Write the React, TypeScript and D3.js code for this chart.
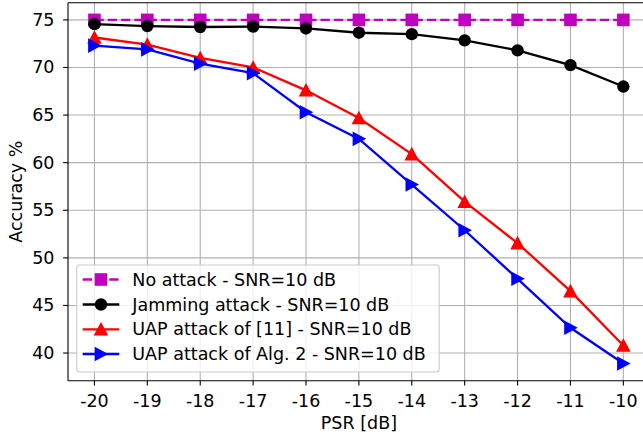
import React from "react";
import * as d3 from "d3";

const psr = [-20, -19, -18, -17, -16, -15, -14, -13, -12, -11, -10];
const noAttack = [75, 75, 75, 75, 75, 75, 75, 75, 75, 75, 75];
const jamming = [74.55, 74.35, 74.25, 74.3, 74.1, 73.65, 73.5, 72.85, 71.8, 70.25, 68.0];
const uap11 = [73.15, 72.4, 71.0, 70.0, 67.6, 64.7, 60.9, 55.9, 51.55, 46.5, 40.8];
const uapAlg2 = [72.3, 71.9, 70.4, 69.4, 65.3, 62.5, 57.7, 52.9, 47.8, 42.65, 38.9];
const yTicks = [40, 45, 50, 55, 60, 65, 70, 75];
const labels = [
  "No attack - SNR=10 dB",
  "Jamming attack - SNR=10 dB",
  "UAP attack of [11] - SNR=10 dB",
  "UAP attack of Alg. 2 - SNR=10 dB",
];

type Series = { values: number[]; color: string; marker: string; dashed?: boolean };
const series: Series[] = [
  { values: noAttack, color: "#bf00bf", marker: "square", dashed: true },
  { values: jamming, color: "#000000", marker: "circle" },
  { values: uap11, color: "#ff0000", marker: "triUp" },
  { values: uapAlg2, color: "#0000ff", marker: "triRight" },
];

const W = 643, H = 436;
const left = 68, right = 649.8, top = 2.7, bottom = 380.7;
const font = "DejaVu Sans, sans-serif";
const fs = 17.5;
const lw = 2.3;
const dash = "9.3,4";

function Marker({ kind, x, y, color }: { kind: string; x: number; y: number; color: string }) {
  const s = 6.3;
  if (kind === "square") return <rect x={x - s} y={y - s} width={2 * s} height={2 * s} fill={color} />;
  if (kind === "circle") return <circle cx={x} cy={y} r={6.2} fill={color} />;
  if (kind === "triUp") {
    const p = d3.path();
    p.moveTo(x, y - 7.3); p.lineTo(x + 7.3, y + 6.3); p.lineTo(x - 7.3, y + 6.3); p.closePath();
    return <path d={p.toString()} fill={color} />;
  }
  const p = d3.path();
  p.moveTo(x + 7.3, y); p.lineTo(x - 6.3, y - 7.3); p.lineTo(x - 6.3, y + 7.3); p.closePath();
  return <path d={p.toString()} fill={color} />;
}

export default function App() {
  const x = d3.scaleLinear().domain([-20.5, -9.5]).range([left, right]);
  const y = d3.scaleLinear().domain([37.095, 76.805]).range([bottom, top]);
  const line = d3.line<number>().x((_, i) => x(psr[i])).y((v) => y(v));

  const lgX = 76.7, lgY = 265, lgW = 362.5, lgH = 107;
  const rowY = [279.5, 304.5, 329.3, 354];

  return (
    <svg width={W} height={H} style={{ position: "absolute", left: 0, top: 0, background: "#fff" }} fontFamily={font}>
      <defs>
        <clipPath id="plot">
          <rect x={left} y={top} width={right - left} height={bottom - top} />
        </clipPath>
      </defs>
      <rect x={0} y={0} width={W} height={H} fill="#fff" />
      <g stroke="#b0b0b0" strokeWidth={1.1}>
        {psr.map((t) => (
          <line key={"gx" + t} x1={x(t)} x2={x(t)} y1={top} y2={bottom} />
        ))}
        {yTicks.map((t) => (
          <line key={"gy" + t} x1={left} x2={right} y1={y(t)} y2={y(t)} />
        ))}
      </g>
      <g clipPath="url(#plot)">
        {series.map((s, si) => (
          <g key={si}>
            <path d={line(s.values) || ""} fill="none" stroke={s.color} strokeWidth={lw}
              strokeDasharray={s.dashed ? dash : undefined} />
            {s.values.map((v, i) => (
              <Marker key={i} kind={s.marker} x={x(psr[i])} y={y(v)} color={s.color} />
            ))}
          </g>
        ))}
      </g>
      <g stroke="#000" strokeWidth={1.1} fill="none">
        <line x1={left} x2={left} y1={top} y2={bottom} />
        <line x1={left} x2={right} y1={bottom} y2={bottom} />
        <line x1={left} x2={right} y1={top} y2={top} />
        <line x1={right} x2={right} y1={top} y2={bottom} />
      </g>
      <g stroke="#000" strokeWidth={1.1}>
        {psr.map((t) => (
          <line key={"tx" + t} x1={x(t)} x2={x(t)} y1={bottom} y2={bottom + 4.9} />
        ))}
        {yTicks.map((t) => (
          <line key={"ty" + t} x1={left} x2={left - 4.9} y1={y(t)} y2={y(t)} />
        ))}
      </g>
      <g fontSize={fs} fill="#000">
        {psr.map((t) => (
          <text key={"lx" + t} x={x(t)} y={bottom + 20.5} textAnchor="middle" dominantBaseline="central">
            {String(t)}
          </text>
        ))}
        {yTicks.map((t) => (
          <text key={"ly" + t} x={left - 13.5} y={y(t)} textAnchor="end" dominantBaseline="central">
            {t}
          </text>
        ))}
        <text x={(left + right) / 2} y={423} textAnchor="middle" dominantBaseline="central">PSR [dB]</text>
        <text transform={`translate(16,${(top + bottom) / 2}) rotate(-90)`} textAnchor="middle" dominantBaseline="central">
          Accuracy %
        </text>
      </g>
      <g>
        <rect x={lgX} y={lgY} width={lgW} height={lgH} rx={3} fill="#fff" fillOpacity={0.8} stroke="#cccccc" strokeWidth={1.1} />
        {series.map((s, i) => (
          <g key={"lg" + i}>
            <line x1={82.7} x2={119.3} y1={rowY[i]} y2={rowY[i]} stroke={s.color} strokeWidth={lw}
              strokeDasharray={s.dashed ? dash : undefined} />
            <Marker kind={s.marker} x={101} y={rowY[i]} color={s.color} />
            <text x={132.3} y={rowY[i]} fontSize={fs} dominantBaseline="central" fill="#000">{labels[i]}</text>
          </g>
        ))}
      </g>
    </svg>
  );
}
